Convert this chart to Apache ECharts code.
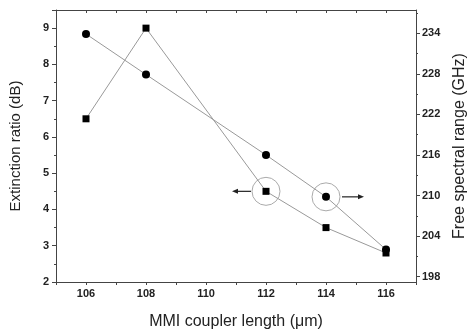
<!DOCTYPE html>
<html>
<head>
<meta charset="utf-8">
<script src="https://cdn.jsdelivr.net/npm/echarts@6/dist/echarts.min.js"></script>
<style>
  html, body { margin: 0; padding: 0; background: #fff; }
  #main { width: 476px; height: 335px; }
</style>
</head>
<body>
<div id="main"></div>
<script>
// MMI coupler length (um)
var lengths = [106, 108, 112, 114, 116];
// extinction ratio (dB), squares, left axis
var extinction = [6.5, 9.0, 4.5, 3.5, 2.8];
// free spectral range (GHz), circles, right axis
var fsr = [233.9, 227.9, 216.0, 209.8, 202.0];
// right axis labels
var fsrTicks = [198, 204, 210, 216, 222, 228, 234];
var fsrMinor = [201, 207, 213, 219, 225, 231, 237];

var fontFam = '"Liberation Sans", Arial, sans-serif';
var axisColor = '#444';
var lineColor = '#999';

var sqData = lengths.map(function (x, i) { return [x, extinction[i]]; });
var ciData = lengths.map(function (x, i) { return [x, fsr[i]]; });

var labelStyle = { color: '#222', fontSize: 11, fontFamily: fontFam, fontWeight: 'bold' };

var option = {
	animation: false,
	grid: { left: 53, right: 54, top: 10, bottom: 53 },
	xAxis: [{
		type: 'value',
		min: 105,
		max: 117,
		interval: 1,
		name: 'MMI coupler length (\u03bcm)',
		nameLocation: 'middle',
		nameGap: 32,
		nameTextStyle: { color: '#222', fontSize: 16, fontFamily: fontFam },
		axisLine: { show: true, lineStyle: { color: axisColor, width: 1 } },
		axisTick: { show: true, length: 3, lineStyle: { color: axisColor } },
		axisLabel: Object.assign({
			margin: 6,
			formatter: function (v) { return v % 2 === 0 ? String(v) : ''; }
		}, labelStyle),
		splitLine: { show: false }
	}, {
		type: 'value',
		position: 'top',
		min: 105,
		max: 117,
		interval: 1,
		axisLine: { show: true, lineStyle: { color: axisColor, width: 1 } },
		axisTick: { show: true, inside: true, length: 3, lineStyle: { color: axisColor } },
		axisLabel: { show: false },
		splitLine: { show: false }
	}],
	yAxis: [{
		type: 'value',
		min: 2,
		max: 9.5,
		interval: 1,
		name: 'Extinction ratio (dB)',
		nameLocation: 'middle',
		nameGap: 33,
		nameTextStyle: { color: '#222', fontSize: 15, fontFamily: fontFam },
		axisLine: { show: true, lineStyle: { color: axisColor, width: 1 } },
		axisTick: { show: true, length: 4, lineStyle: { color: axisColor } },
		minorTick: { show: true, splitNumber: 2, length: 2, lineStyle: { color: axisColor } },
		axisLabel: Object.assign({
			margin: 7,
			formatter: function (v) { return v % 1 === 0 ? String(v) : ''; }
		}, labelStyle),
		splitLine: { show: false }
	}, {
		type: 'value',
		position: 'right',
		min: 197.2,
		max: 237.45,
		name: 'Free spectral range (GHz)',
		nameLocation: 'middle',
		nameGap: 36,
		nameRotate: 90,
		nameTextStyle: { color: '#222', fontSize: 16, fontFamily: fontFam },
		axisLine: { show: true, lineStyle: { color: axisColor, width: 1 } },
		axisTick: { show: true, length: 4, customValues: fsrTicks, lineStyle: { color: axisColor } },
		axisLabel: Object.assign({ margin: 6, customValues: fsrTicks }, labelStyle),
		splitLine: { show: false }
	}, {
		type: 'value',
		position: 'right',
		min: 197.2,
		max: 237.45,
		axisLine: { show: false },
		axisTick: { show: true, length: 2, customValues: fsrMinor, lineStyle: { color: axisColor } },
		axisLabel: { show: false, customValues: fsrMinor },
		splitLine: { show: false }
	}],
	series: [{
		name: 'Extinction ratio',
		type: 'line',
		xAxisIndex: 0,
		yAxisIndex: 0,
		data: sqData,
		symbol: 'rect',
		symbolSize: 7,
		itemStyle: { color: '#000' },
		lineStyle: { color: lineColor, width: 1 },
		z: 3
	}, {
		name: 'Free spectral range',
		type: 'line',
		xAxisIndex: 0,
		yAxisIndex: 1,
		data: ciData,
		symbol: 'circle',
		symbolSize: 8,
		itemStyle: { color: '#000' },
		lineStyle: { color: lineColor, width: 1 },
		z: 3
	}]
};

var myChart = echarts.init(document.getElementById('main'));
myChart.setOption(option);

// annotation circles + arrows pointing to the matching axis
var p1 = myChart.convertToPixel({ xAxisIndex: 0, yAxisIndex: 0 }, sqData[2]);
var p2 = myChart.convertToPixel({ xAxisIndex: 0, yAxisIndex: 1 }, ciData[3]);

function arrow(x0, x1, y) {
	var dir = x1 > x0 ? 1 : -1;
	return [{
		type: 'line',
		shape: { x1: x0, y1: y, x2: x1 - dir * 5, y2: y },
		style: { stroke: '#222', lineWidth: 1.2 }
	}, {
		type: 'polygon',
		shape: { points: [[x1, y], [x1 - dir * 6, y - 2.5], [x1 - dir * 6, y + 2.5]] },
		style: { fill: '#222' }
	}];
}

var g = [
	{ type: 'circle', shape: { cx: p1[0], cy: p1[1], r: 14 }, style: { fill: 'none', stroke: '#aaa', lineWidth: 1 } },
	{ type: 'circle', shape: { cx: p2[0], cy: p2[1], r: 14 }, style: { fill: 'none', stroke: '#aaa', lineWidth: 1 } }
].concat(arrow(p1[0] - 15, p1[0] - 34, p1[1])).concat(arrow(p2[0] + 16, p2[0] + 38, p2[1]));

myChart.setOption({ graphic: g });
</script>
</body>
</html>
